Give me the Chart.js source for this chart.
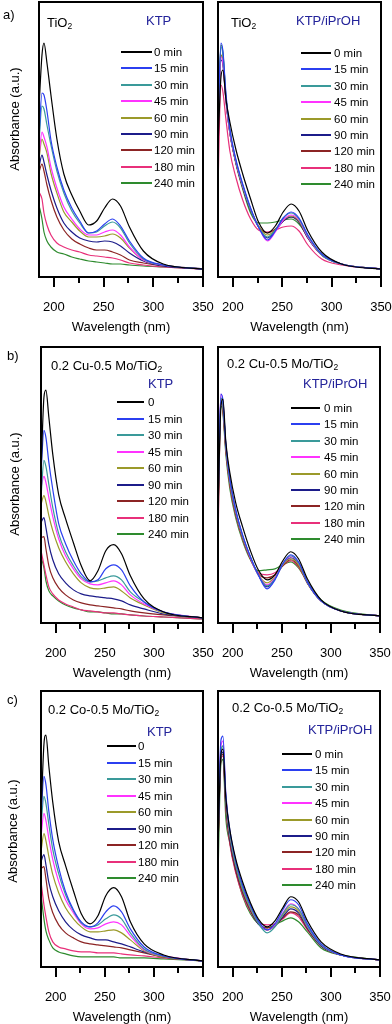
<!DOCTYPE html>
<html><head><meta charset="utf-8">
<script src="https://cdn.jsdelivr.net/npm/chart.js@4.4.1/dist/chart.umd.min.js"></script>
<style>
html,body{margin:0;padding:0;background:#fff;overflow:hidden;width:392px;height:1024px;}
body{position:relative;font-family:"Liberation Sans",Arial,sans-serif;color:#000;}
canvas{position:absolute;}
.t{position:absolute;white-space:nowrap;font-size:13px;line-height:15px;transform:translateY(-50%);}
.blue{color:#23239a;}
.ytitle{position:absolute;font-size:13px;line-height:15px;white-space:nowrap;transform:translate(-50%,-50%) rotate(-90deg);}
.legrow{position:absolute;height:16px;display:flex;align-items:center;font-size:11.5px;white-space:nowrap;}
.legline{height:2px;}
sub{font-size:8.5px;vertical-align:-2px;line-height:0;}
</style></head><body>
<script>
// ---------- data ----------
const wavelengths = [185, 188, 190, 193, 197, 203, 210, 218, 226, 235, 243, 251, 259, 267, 276, 290, 310, 350];
const xMajorTicks = [200, 250, 300, 350];
const xMinorTicks = [225, 275, 325];
const timeLabels = ['0 min', '15 min', '30 min', '45 min', '60 min', '90 min', '120 min', '180 min', '240 min'];
const timeLabelsShort = ['0', '15 min', '30 min', '45 min', '60 min', '90 min', '120 min', '180 min', '240 min'];
const seriesColors = ['#000000', '#2b3ff0', '#3a9a9a', '#ff33ff', '#9b9a2a', '#1c1c8a', '#8c2424', '#e8307a', '#2e8b2e'];

// absorbance (a.u.), one row per irradiation time (0 ... 240 min)
const tio2KTP = [
  [170, 222, 234, 214, 182, 138, 103, 82, 66, 52, 56, 69, 78, 71, 50, 26, 13, 8],
  [140, 184, 182, 166, 137, 110, 87, 69, 56, 44, 46, 53, 58, 51, 36, 19, 12, 8],
  [135, 171, 168, 152, 132, 106, 84, 66, 54, 44, 45, 51, 55, 49, 34, 18, 12, 8],
  [120, 145, 140, 130, 110, 89, 70, 58, 48, 42, 42, 45, 47, 42, 30, 17, 12, 8],
  [118, 138, 133, 124, 104, 84, 65, 55, 46, 40, 40, 41, 43, 39, 29, 17, 12, 8],
  [110, 122, 115, 102, 87, 69, 54, 45, 39, 36, 35, 36, 35, 31, 24, 16, 11, 8],
  [105, 113, 106, 92, 77, 60, 47, 38, 33, 29, 27, 27, 25, 22, 17, 14, 11, 8],
  [85, 78, 64, 52, 42, 34, 30, 27, 25, 22, 21, 20, 19, 17, 14, 12, 10, 8],
  [72, 58, 45, 36, 30, 25, 23, 20, 18, 16, 15, 14, 13, 13, 12, 11, 10, 8]
];
const tio2IPrOH = [
  [130, 200, 207, 178, 155, 128, 103, 78, 55, 44, 51, 65, 73, 66, 46, 25, 13, 8],
  [150, 234, 226, 184, 148, 118, 93, 69, 50, 37, 46, 59, 65, 59, 42, 23, 13, 8],
  [150, 230, 222, 182, 147, 117, 92, 68, 50, 40, 47, 59, 64, 58, 41, 22, 13, 8],
  [145, 220, 214, 178, 145, 116, 91, 68, 50, 36, 45, 57, 62, 57, 40, 22, 13, 8],
  [145, 222, 216, 179, 145, 116, 91, 68, 51, 42, 47, 57, 61, 56, 40, 22, 13, 8],
  [145, 217, 212, 177, 144, 115, 90, 67, 50, 39, 46, 56, 60, 55, 39, 22, 13, 8],
  [145, 222, 215, 178, 144, 115, 90, 67, 51, 44, 48, 56, 60, 55, 39, 22, 13, 8],
  [90, 192, 185, 158, 126, 100, 77, 58, 47, 45, 47, 50, 51, 46, 32, 18, 12, 8],
  [150, 232, 224, 180, 145, 114, 88, 64, 54, 54, 55, 57, 58, 53, 40, 22, 13, 8]
];
const cuMoKTP = [
  [150, 225, 232, 205, 168, 128, 104, 80, 57, 42, 52, 72, 78, 69, 47, 24, 11, 5],
  [150, 192, 185, 160, 133, 99, 79, 62, 49, 41, 43, 54, 58, 53, 37, 21, 11, 5],
  [125, 162, 156, 138, 115, 89, 71, 57, 46, 41, 42, 45, 47, 43, 31, 21, 11, 5],
  [135, 146, 140, 125, 106, 84, 67, 54, 44, 39, 38, 40, 42, 38, 28, 19, 11, 5],
  [118, 127, 121, 107, 92, 75, 61, 49, 40, 35, 34, 35, 36, 32, 25, 18, 10, 5],
  [100, 105, 95, 78, 63, 49, 40, 33, 29, 27, 26, 25, 24, 22, 18, 14, 9, 5],
  [85, 86, 74, 57, 45, 35, 28, 23, 20, 18, 17, 16, 15, 14, 12, 10, 8, 5],
  [72, 58, 48, 36, 29, 23, 19, 16, 13, 12, 11, 10, 10, 9, 8, 7, 6, 4],
  [66, 55, 42, 32, 27, 22, 18, 15, 13, 11, 11, 10, 9, 9, 8, 7, 6, 4]
];
const cuMoIPrOH = [
  [110, 216, 223, 180, 150, 120, 96, 72, 53, 43, 48, 62, 71, 64, 44, 23, 12, 7],
  [120, 228, 222, 178, 144, 113, 88, 66, 48, 34, 43, 59, 68, 61, 41, 22, 12, 7],
  [120, 224, 218, 177, 143, 112, 87, 66, 48, 37, 44, 59, 67, 60, 41, 22, 12, 7],
  [120, 228, 220, 177, 143, 112, 87, 65, 48, 38, 45, 59, 66, 60, 41, 22, 12, 7],
  [115, 222, 215, 175, 141, 111, 86, 65, 48, 40, 46, 58, 64, 58, 40, 22, 12, 7],
  [115, 224, 217, 176, 142, 111, 86, 65, 48, 36, 44, 58, 65, 59, 40, 22, 12, 7],
  [110, 220, 213, 173, 139, 109, 85, 64, 49, 45, 48, 57, 63, 57, 40, 22, 12, 7],
  [80, 220, 212, 172, 138, 108, 84, 64, 50, 48, 50, 57, 62, 56, 40, 22, 12, 7],
  [95, 216, 209, 168, 134, 105, 82, 63, 52, 53, 54, 58, 61, 55, 41, 23, 13, 7]
];
const coMoKTP = [
  [150, 222, 231, 200, 164, 125, 101, 76, 53, 43, 51, 71, 79, 70, 45, 23, 12, 6],
  [150, 190, 182, 155, 127, 99, 75, 57, 45, 40, 44, 55, 61, 55, 38, 20, 11, 6],
  [140, 170, 163, 142, 117, 93, 72, 56, 44, 40, 42, 48, 52, 48, 34, 18, 11, 6],
  [130, 153, 146, 128, 107, 85, 67, 54, 43, 38, 39, 43, 45, 42, 31, 17, 11, 6],
  [115, 133, 126, 110, 92, 74, 59, 48, 40, 35, 35, 36, 37, 34, 27, 16, 10, 6],
  [105, 112, 102, 84, 70, 56, 45, 37, 32, 29, 27, 27, 25, 23, 20, 15, 10, 6],
  [98, 100, 88, 68, 54, 42, 34, 29, 25, 23, 22, 21, 20, 19, 17, 14, 10, 6],
  [85, 62, 50, 35, 25, 20, 18, 16, 15, 15, 14, 14, 14, 13, 12, 11, 9, 6],
  [72, 48, 36, 27, 19, 15, 13, 11, 10, 10, 10, 10, 10, 9, 9, 9, 8, 6]
];
const coMoIPrOH = [
  [120, 212, 217, 168, 137, 108, 85, 64, 48, 40, 46, 59, 70, 65, 46, 25, 13, 7],
  [130, 226, 230, 172, 137, 106, 82, 62, 46, 37, 43, 57, 67, 62, 43, 23, 12, 7],
  [130, 215, 220, 168, 133, 103, 79, 60, 44, 34, 40, 53, 62, 58, 41, 22, 12, 7],
  [130, 220, 225, 170, 134, 104, 80, 60, 45, 37, 42, 54, 63, 58, 41, 22, 12, 7],
  [125, 215, 220, 166, 131, 101, 77, 58, 44, 37, 41, 52, 60, 56, 40, 22, 12, 7],
  [125, 210, 214, 163, 128, 99, 76, 57, 43, 37, 41, 50, 58, 54, 39, 21, 12, 7],
  [120, 208, 212, 160, 125, 96, 74, 56, 43, 39, 41, 49, 55, 52, 38, 21, 12, 7],
  [120, 208, 210, 158, 123, 94, 72, 55, 44, 42, 43, 48, 54, 50, 37, 21, 12, 7],
  [90, 203, 207, 148, 124, 96, 71, 53, 43, 39, 42, 46, 49, 45, 35, 19, 12, 7]
];

// ---------- layout ----------
const FONT = '"Liberation Sans", Arial, sans-serif';
const panels = [
  {series: tio2KTP,   labels: timeLabels,      frame: [39, 2, 203, 277],  side: 'L',
   leg: {x: 121, w: 31, tx: 154, y0: 52, dy: 16.4},
   texts: [{h: 'TiO<sub>2</sub>', x: 47, y: 22}, {h: 'KTP', x: 146, y: 20, c: 'blue'}]},
  {series: tio2IPrOH, labels: timeLabels,      frame: [218, 2, 381, 277], side: 'R',
   leg: {x: 301, w: 30, tx: 334, y0: 53, dy: 16.4},
   texts: [{h: 'TiO<sub>2</sub>', x: 231, y: 22}, {h: 'KTP/iPrOH', x: 296, y: 20, c: 'blue'}]},
  {series: cuMoKTP,   labels: timeLabelsShort, frame: [41, 347, 203, 623], side: 'L',
   leg: {x: 117, w: 27, tx: 148, y0: 402, dy: 16.5},
   texts: [{h: '0.2 Cu-0.5 Mo/TiO<sub>2</sub>', x: 51, y: 365}, {h: 'KTP', x: 148, y: 383, c: 'blue'}]},
  {series: cuMoIPrOH, labels: timeLabels,      frame: [218, 347, 380, 623], side: 'R',
   leg: {x: 291, w: 29, tx: 324, y0: 408, dy: 16.4},
   texts: [{h: '0.2 Cu-0.5 Mo/TiO<sub>2</sub>', x: 227, y: 363}, {h: 'KTP/iPrOH', x: 303, y: 383, c: 'blue'}]},
  {series: coMoKTP,   labels: timeLabelsShort, frame: [41, 691, 203, 967], side: 'L',
   leg: {x: 107, w: 29, tx: 138, y0: 746, dy: 16.5},
   texts: [{h: '0.2 Co-0.5 Mo/TiO<sub>2</sub>', x: 48, y: 709}, {h: 'KTP', x: 147, y: 731, c: 'blue'}]},
  {series: coMoIPrOH, labels: timeLabels,      frame: [218, 691, 380, 967], side: 'R',
   leg: {x: 282, w: 30, tx: 315, y0: 754, dy: 16.4},
   texts: [{h: '0.2 Co-0.5 Mo/TiO<sub>2</sub>', x: 232, y: 707}, {h: 'KTP/iPrOH', x: 308, y: 729, c: 'blue'}]}
];
const panelLetters = [{h: 'a)', x: 3, y: 14}, {h: 'b)', x: 7, y: 355}, {h: 'c)', x: 7, y: 699}];
const yTitles = [{x: 14, y: 119}, {x: 14, y: 484}, {x: 12, y: 831}];

const framePlugin = {
  id: 'frameTicks',
  afterDraw(chart) {
    const {ctx, chartArea: a} = chart;
    const x = chart.scales.x;
    ctx.save();
    ctx.strokeStyle = '#000';
    ctx.lineWidth = 2;
    ctx.strokeRect(a.left, a.top, a.right - a.left, a.bottom - a.top);
    ctx.beginPath();
    xMajorTicks.forEach(v => { const p = Math.round(x.getPixelForValue(v)); ctx.moveTo(p, a.bottom); ctx.lineTo(p, a.bottom + 10); });
    xMinorTicks.forEach(v => { const p = Math.round(x.getPixelForValue(v)); ctx.moveTo(p, a.bottom); ctx.lineTo(p, a.bottom + 6); });
    ctx.stroke();
    ctx.restore();
  }
};

function addText(html, x, y, cls) {
  const d = document.createElement('div');
  d.className = 't' + (cls ? ' ' + cls : '');
  d.innerHTML = html;
  d.style.left = x + 'px';
  d.style.top = y + 'px';
  document.body.appendChild(d);
}

const AXIS_H = 58, PAD_T = 2, PAD_SIDE = 14;
panels.forEach(p => {
  const [fl, ft, fr, fb] = p.frame;
  const padL = p.side === 'L' ? fl : PAD_SIDE;
  const padR = PAD_SIDE;
  const w = fr - fl + padL + padR;
  const h = fb - ft + PAD_T + AXIS_H;
  const c = document.createElement('canvas');
  c.width = w; c.height = h;
  c.style.left = (fl - padL) + 'px'; c.style.top = (ft - PAD_T) + 'px';
  c.style.width = w + 'px'; c.style.height = h + 'px';
  document.body.appendChild(c);
  new Chart(c, {
    type: 'line',
    data: {
      datasets: p.series.map((arr, i) => ({
        label: p.labels[i],
        data: wavelengths.map((wl, j) => ({x: wl, y: arr[j]})),
        borderColor: seriesColors[i],
        borderWidth: 1.2,
        pointRadius: 0,
        fill: false,
        cubicInterpolationMode: 'monotone'
      }))
    },
    options: {
      responsive: false, animation: false, devicePixelRatio: 1,
      layout: {padding: {left: padL, right: padR, top: PAD_T, bottom: 0}},
      plugins: {legend: {display: false}, tooltip: {enabled: false}},
      scales: {
        x: {
          type: 'linear', min: 185, max: 350,
          grid: {display: false, drawTicks: true, tickLength: 23}, border: {display: false},
          afterBuildTicks: s => { s.ticks = xMajorTicks.map(v => ({value: v})); },
          afterFit: s => { s.height = AXIS_H; s.paddingLeft = 0; s.paddingRight = 0; },
          ticks: {padding: 0, color: '#000', autoSkip: false, maxRotation: 0, font: {family: FONT, size: 13}},
          title: {display: true, text: 'Wavelength (nm)', color: '#000', padding: {top: 0, bottom: 0}, font: {family: FONT, size: 13}}
        },
        y: {display: false, min: 0, max: 275}
      }
    },
    plugins: [framePlugin]
  });
  // legend
  p.labels.forEach((lab, i) => {
    const r = document.createElement('div');
    r.className = 'legrow';
    r.style.left = p.leg.x + 'px';
    r.style.top = (p.leg.y0 + i * p.leg.dy - 8) + 'px';
    const ln = document.createElement('div');
    ln.className = 'legline';
    ln.style.width = p.leg.w + 'px';
    ln.style.background = seriesColors[i];
    const tx = document.createElement('span');
    tx.textContent = lab;
    tx.style.marginLeft = (p.leg.tx - p.leg.x - p.leg.w) + 'px';
    r.appendChild(ln); r.appendChild(tx);
    document.body.appendChild(r);
  });
  p.texts.forEach(t => addText(t.h, t.x, t.y, t.c));
});
panelLetters.forEach(t => addText(t.h, t.x, t.y));
yTitles.forEach(t => {
  const d = document.createElement('div');
  d.className = 'ytitle';
  d.textContent = 'Absorbance (a.u.)';
  d.style.left = t.x + 'px'; d.style.top = t.y + 'px';
  document.body.appendChild(d);
});
</script>
</body></html>
